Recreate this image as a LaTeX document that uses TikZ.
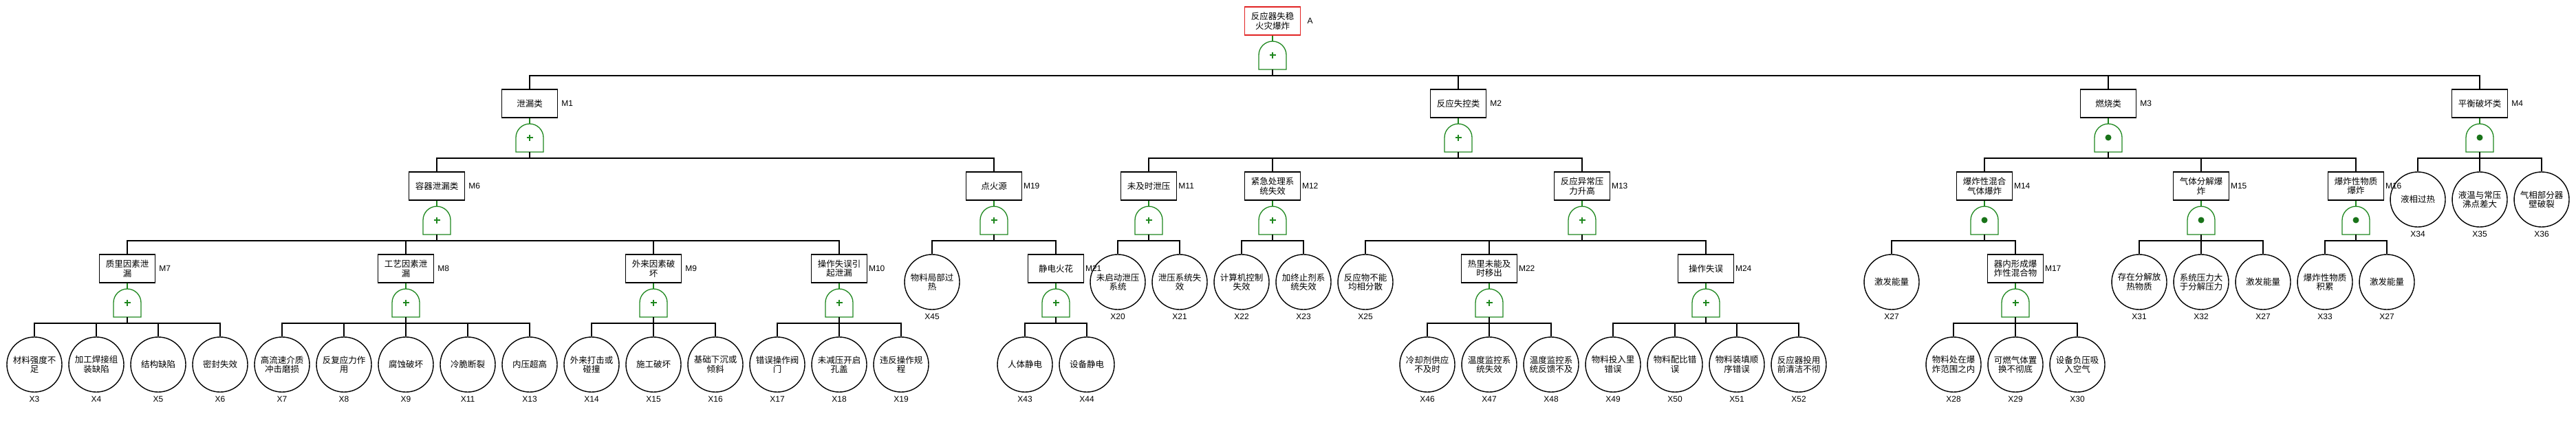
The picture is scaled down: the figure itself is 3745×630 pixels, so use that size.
\documentclass[tikz,border=0pt]{standalone}
\usepackage{fontspec}
\setmainfont{Liberation Sans}
\newfontfamily\cjk{Noto Sans CJK SC}
\definecolor{gategreen}{RGB}{30,135,30}
\definecolor{topred}{RGB}{225,35,35}
\tikzset{
  evt/.style={draw,line width=1.4pt,minimum width=81pt,minimum height=41pt,inner sep=1pt,
    align=center,font=\cjk\fontsize{12.5}{13.5}\selectfont},
  topevt/.style={evt,draw=topred},
  basic/.style={draw,circle,line width=1.4pt,minimum size=80pt,inner sep=1pt,
    align=center,font=\cjk\fontsize{12.5}{13.5}\selectfont},
  lab/.style={font=\fontsize{12}{12}\selectfont,inner sep=0pt},
  idl/.style={label={[lab,anchor=center,label distance=13.5pt]0:#1}},
  xid/.style={label={[lab,label distance=5.5pt]below:#1}},
  bus/.style={line width=1.4pt},
  stem/.style={line width=2.8pt},
  gline/.style={gategreen,line width=1.3pt},
  orgate/.pic={
    \draw[gline] (-20,41) -- (-20,20) .. controls (-20,9) and (-11,0) .. (0,0)
      .. controls (11,0) and (20,9) .. (20,20) -- (20,41) -- cycle;
    \draw[gline,line width=1.8pt] (-4.5,20) -- (4.5,20) (0,15.5) -- (0,24.5);
    \coordinate (-top) at (0,0);
    \coordinate (-bot) at (0,41);
    \coordinate (-bus) at (0,50);
  },
  andgate/.pic={
    \draw[gline] (-20,41) -- (-20,20) .. controls (-20,9) and (-11,0) .. (0,0)
      .. controls (11,0) and (20,9) .. (20,20) -- (20,41) -- cycle;
    \fill[gategreen!85!black] (0,20) circle (4.5pt);
    \coordinate (-top) at (0,0);
    \coordinate (-bot) at (0,41);
    \coordinate (-bus) at (0,50);
  }
}
\begin{document}
\begin{tikzpicture}[x=1pt,y=-1pt]
\useasboundingbox (0,0) rectangle (3745,630);
% top event
\node[topevt,idl=A] (a) at (1850,30.5) {反应器失稳\\火灾爆炸};
% level 1
\node[evt,idl=M1] (m1) at (770,150.5) {泄漏类};
\node[evt,idl=M2] (m2) at (2120,150.5) {反应失控类};
\node[evt,idl=M3] (m3) at (3065,150.5) {燃烧类};
\node[evt,idl=M4] (m4) at (3605,150.5) {平衡破坏类};
% level 2
\node[evt,idl=M6] (m6) at (635,270.5) {容器泄漏类};
\node[evt,idl=M19] (m19) at (1445,270.5) {点火源};
\node[evt,idl=M11] (m11) at (1670,270.5) {未及时泄压};
\node[evt,idl=M12] (m12) at (1850,270.5) {紧急处理系\\统失效};
\node[evt,idl=M13] (m13) at (2300,270.5) {反应异常压\\力升高};
\node[evt,idl=M14] (m14) at (2885,270.5) {爆炸性混合\\气体爆炸};
\node[evt,idl=M15] (m15) at (3200,270.5) {气体分解爆\\炸};
\node[evt,idl=M16] (m16) at (3425,270.5) {爆炸性物质\\爆炸};
\node[basic,xid=X34] (x34) at (3515,290) {液相过热};
\node[basic,xid=X35] (x35) at (3605,290) {液温与常压\\沸点差大};
\node[basic,xid=X36] (x36) at (3695,290) {气相部分器\\壁破裂};
% level 3
\node[evt,idl=M7] (m7) at (185,390.5) {质里因素泄\\漏};
\node[evt,idl=M8] (m8) at (590,390.5) {工艺因素泄\\漏};
\node[evt,idl=M9] (m9) at (950,390.5) {外来因素破\\坏};
\node[evt,idl=M10] (m10) at (1220,390.5) {操作失误引\\起泄漏};
\node[basic,xid=X45] (x45) at (1355,410) {物料局部过\\热};
\node[evt,idl=M21] (m21) at (1535,390.5) {静电火花};
\node[basic,xid=X20] (x20) at (1625,410) {未启动泄压\\系统};
\node[basic,xid=X21] (x21) at (1715,410) {泄压系统失\\效};
\node[basic,xid=X22] (x22) at (1805,410) {计算机控制\\失效};
\node[basic,xid=X23] (x23) at (1895,410) {加终止剂系\\统失效};
\node[basic,xid=X25] (x25) at (1985,410) {反应物不能\\均相分散};
\node[evt,idl=M22] (m22) at (2165,390.5) {热里未能及\\时移出};
\node[evt,idl=M24] (m24) at (2480,390.5) {操作失误};
\node[basic,xid=X27] (x27a) at (2750,410) {激发能量};
\node[evt,idl=M17] (m17) at (2930,390.5) {器内形成爆\\炸性混合物};
\node[basic,xid=X31] (x31) at (3110,410) {存在分解放\\热物质};
\node[basic,xid=X32] (x32) at (3200,410) {系统压力大\\于分解压力};
\node[basic,xid=X27] (x27b) at (3290,410) {激发能量};
\node[basic,xid=X33] (x33) at (3380,410) {爆炸性物质\\积累};
\node[basic,xid=X27] (x27c) at (3470,410) {激发能量};
% level 4
\node[basic,xid=X3] (x3) at (50,530) {材料强度不\\足};
\node[basic,xid=X4] (x4) at (140,530) {加工焊接组\\装缺陷};
\node[basic,xid=X5] (x5) at (230,530) {结构缺陷};
\node[basic,xid=X6] (x6) at (320,530) {密封失效};
\node[basic,xid=X7] (x7) at (410,530) {高流速介质\\冲击磨损};
\node[basic,xid=X8] (x8) at (500,530) {反复应力作\\用};
\node[basic,xid=X9] (x9) at (590,530) {腐蚀破坏};
\node[basic,xid=X11] (x11) at (680,530) {冷脆断裂};
\node[basic,xid=X13] (x13) at (770,530) {内压超高};
\node[basic,xid=X14] (x14) at (860,530) {外来打击或\\碰撞};
\node[basic,xid=X15] (x15) at (950,530) {施工破坏};
\node[basic,xid=X16] (x16) at (1040,530) {基础下沉或\\倾斜};
\node[basic,xid=X17] (x17) at (1130,530) {错误操作阀\\门};
\node[basic,xid=X18] (x18) at (1220,530) {未减压开启\\孔盖};
\node[basic,xid=X19] (x19) at (1310,530) {违反操作规\\程};
\node[basic,xid=X43] (x43) at (1490,530) {人体静电};
\node[basic,xid=X44] (x44) at (1580,530) {设备静电};
\node[basic,xid=X46] (x46) at (2075,530) {冷却剂供应\\不及时};
\node[basic,xid=X47] (x47) at (2165,530) {温度监控系\\统失效};
\node[basic,xid=X48] (x48) at (2255,530) {温度监控系\\统反馈不及};
\node[basic,xid=X49] (x49) at (2345,530) {物料投入里\\错误};
\node[basic,xid=X50] (x50) at (2435,530) {物料配比错\\误};
\node[basic,xid=X51] (x51) at (2525,530) {物料装填顺\\序错误};
\node[basic,xid=X52] (x52) at (2615,530) {反应器投用\\前清洁不彻};
\node[basic,xid=X28] (x28) at (2840,530) {物料处在爆\\炸范围之内};
\node[basic,xid=X29] (x29) at (2930,530) {可燃气体置\\换不彻底};
\node[basic,xid=X30] (x30) at (3020,530) {设备负压吸\\入空气};
% gates
\pic (g0) at (1850,60) {orgate};
\pic (g1) at (770,180) {orgate};
\pic (g2) at (2120,180) {orgate};
\pic (g3) at (3065,180) {andgate};
\pic (g4) at (3605,180) {andgate};
\pic (g6) at (635,300) {orgate};
\pic (g19) at (1445,300) {orgate};
\pic (g11) at (1670,300) {orgate};
\pic (g12) at (1850,300) {orgate};
\pic (g13) at (2300,300) {orgate};
\pic (g14) at (2885,300) {andgate};
\pic (g15) at (3200,300) {andgate};
\pic (g16) at (3425,300) {andgate};
\pic (g7) at (185,420) {orgate};
\pic (g8) at (590,420) {orgate};
\pic (g9) at (950,420) {orgate};
\pic (g10) at (1220,420) {orgate};
\pic (g21) at (1535,420) {orgate};
\pic (g22) at (2165,420) {orgate};
\pic (g24) at (2480,420) {orgate};
\pic (g17) at (2930,420) {orgate};
% event to gate
\draw[gline] (a.south) -- (g0-top);
\draw[gline] (m1.south) -- (g1-top);
\draw[gline] (m2.south) -- (g2-top);
\draw[gline] (m3.south) -- (g3-top);
\draw[gline] (m4.south) -- (g4-top);
\draw[gline] (m6.south) -- (g6-top);
\draw[gline] (m19.south) -- (g19-top);
\draw[gline] (m11.south) -- (g11-top);
\draw[gline] (m12.south) -- (g12-top);
\draw[gline] (m13.south) -- (g13-top);
\draw[gline] (m14.south) -- (g14-top);
\draw[gline] (m15.south) -- (g15-top);
\draw[gline] (m16.south) -- (g16-top);
\draw[gline] (m7.south) -- (g7-top);
\draw[gline] (m8.south) -- (g8-top);
\draw[gline] (m9.south) -- (g9-top);
\draw[gline] (m10.south) -- (g10-top);
\draw[gline] (m21.south) -- (g21-top);
\draw[gline] (m22.south) -- (g22-top);
\draw[gline] (m24.south) -- (g24-top);
\draw[gline] (m17.south) -- (g17-top);
% gate to inputs
\draw[stem] (g0-bot) -- (g0-bus);
\draw[bus] (g0-bus) -| (m1.north) (g0-bus) -| (m2.north) (g0-bus) -| (m3.north) (g0-bus) -| (m4.north);
\draw[stem] (g1-bot) -- (g1-bus);
\draw[bus] (g1-bus) -| (m6.north) (g1-bus) -| (m19.north);
\draw[stem] (g2-bot) -- (g2-bus);
\draw[bus] (g2-bus) -| (m11.north) (g2-bus) -| (m12.north) (g2-bus) -| (m13.north);
\draw[stem] (g3-bot) -- (g3-bus);
\draw[bus] (g3-bus) -| (m14.north) (g3-bus) -| (m15.north) (g3-bus) -| (m16.north);
\draw[stem] (g4-bot) -- (g4-bus);
\draw[bus] (g4-bus) -| (x34.north) (g4-bus) -| (x35.north) (g4-bus) -| (x36.north);
\draw[stem] (g6-bot) -- (g6-bus);
\draw[bus] (g6-bus) -| (m7.north) (g6-bus) -| (m8.north) (g6-bus) -| (m9.north) (g6-bus) -| (m10.north);
\draw[stem] (g19-bot) -- (g19-bus);
\draw[bus] (g19-bus) -| (x45.north) (g19-bus) -| (m21.north);
\draw[stem] (g11-bot) -- (g11-bus);
\draw[bus] (g11-bus) -| (x20.north) (g11-bus) -| (x21.north);
\draw[stem] (g12-bot) -- (g12-bus);
\draw[bus] (g12-bus) -| (x22.north) (g12-bus) -| (x23.north);
\draw[stem] (g13-bot) -- (g13-bus);
\draw[bus] (g13-bus) -| (x25.north) (g13-bus) -| (m22.north) (g13-bus) -| (m24.north);
\draw[stem] (g14-bot) -- (g14-bus);
\draw[bus] (g14-bus) -| (x27a.north) (g14-bus) -| (m17.north);
\draw[stem] (g15-bot) -- (g15-bus);
\draw[bus] (g15-bus) -| (x31.north) (g15-bus) -| (x32.north) (g15-bus) -| (x27b.north);
\draw[stem] (g16-bot) -- (g16-bus);
\draw[bus] (g16-bus) -| (x33.north) (g16-bus) -| (x27c.north);
\draw[stem] (g7-bot) -- (g7-bus);
\draw[bus] (g7-bus) -| (x3.north) (g7-bus) -| (x4.north) (g7-bus) -| (x5.north) (g7-bus) -| (x6.north);
\draw[stem] (g8-bot) -- (g8-bus);
\draw[bus] (g8-bus) -| (x7.north) (g8-bus) -| (x8.north) (g8-bus) -| (x9.north) (g8-bus) -| (x11.north) (g8-bus) -| (x13.north);
\draw[stem] (g9-bot) -- (g9-bus);
\draw[bus] (g9-bus) -| (x14.north) (g9-bus) -| (x15.north) (g9-bus) -| (x16.north);
\draw[stem] (g10-bot) -- (g10-bus);
\draw[bus] (g10-bus) -| (x17.north) (g10-bus) -| (x18.north) (g10-bus) -| (x19.north);
\draw[stem] (g21-bot) -- (g21-bus);
\draw[bus] (g21-bus) -| (x43.north) (g21-bus) -| (x44.north);
\draw[stem] (g22-bot) -- (g22-bus);
\draw[bus] (g22-bus) -| (x46.north) (g22-bus) -| (x47.north) (g22-bus) -| (x48.north);
\draw[stem] (g24-bot) -- (g24-bus);
\draw[bus] (g24-bus) -| (x49.north) (g24-bus) -| (x50.north) (g24-bus) -| (x51.north) (g24-bus) -| (x52.north);
\draw[stem] (g17-bot) -- (g17-bus);
\draw[bus] (g17-bus) -| (x28.north) (g17-bus) -| (x29.north) (g17-bus) -| (x30.north);
\end{tikzpicture}
\end{document}
